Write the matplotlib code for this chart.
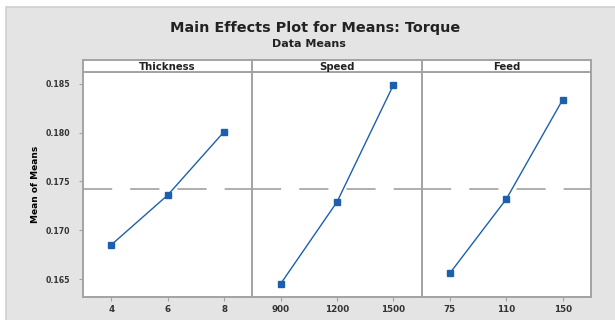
import matplotlib
matplotlib.use("Agg")
import matplotlib.pyplot as plt
from matplotlib.patches import Rectangle
from matplotlib.lines import Line2D

# Minitab main effects plot data
factors = ["Thickness", "Speed", "Feed"]
thickness_levels = ["4", "6", "8"]
speed_levels = ["900", "1200", "1500"]
feed_levels = ["75", "110", "150"]
thickness_means = [0.1685, 0.1736, 0.1801]
speed_means = [0.1645, 0.1729, 0.1849]
feed_means = [0.1656, 0.1732, 0.1834]
grand_mean = 0.1742
y_ticks = [0.165, 0.170, 0.175, 0.180, 0.185]

levels = [thickness_levels, speed_levels, feed_levels]
means = [thickness_means, speed_means, feed_means]

plt.rcParams["font.family"] = ["DejaVu Sans"]
plt.rcParams["lines.scale_dashes"] = False

W, H = 615, 320
fig = plt.figure(figsize=(W / 100, H / 100), dpi=100)
fig.patch.set_facecolor("white")

# grey background of the minitab graph window (border only on top/left)
x0, y1 = 6 / W, 1 - 7 / H
fig.add_artist(Rectangle((x0, 0), 1 - x0, y1, transform=fig.transFigure,
                         facecolor="#e4e4e4", edgecolor="none", zorder=0))
fig.add_artist(Line2D([x0, x0, 1], [0, y1, y1], transform=fig.transFigure,
                      color="#cfcfcf", linewidth=1.2, zorder=0))

left, right = 83 / W, 591 / W
bottom, top = 1 - 297 / H, 1 - 72 / H
strip_h = 12 / H
pw = (right - left) / 3
frame = "#a3a3a3"
blue = "#1d5fae"

for i in range(3):
    ax = fig.add_axes([left + i * pw, bottom, pw, top - bottom])
    x = range(len(levels[i]))
    ax.axhline(grand_mean, color="#a8a8a8", linewidth=1.3, dashes=(21, 13), zorder=1)
    ax.plot(x, means[i], color=blue, linewidth=1.0, marker="s", markersize=4.2, zorder=3)
    ax.set_xlim(-0.5, 2.5)
    ax.set_ylim(0.16316, 0.18622)
    ax.set_xticks(list(x))
    ax.set_xticklabels(levels[i], fontsize=6.3, fontweight="bold", color="#333333")
    ax.set_yticks(y_ticks)
    if i == 0:
        ax.set_yticklabels([f"{v:.3f}" for v in y_ticks], fontsize=5.6,
                           fontweight="bold", color="#333333")
        ax.set_ylabel("Mean of Means", fontsize=6.5, fontweight="bold", labelpad=4)
        ax.tick_params(axis="y", length=3, width=0.8, color=frame, pad=6)
    else:
        ax.tick_params(axis="y", left=False, labelleft=False)
    ax.tick_params(axis="x", length=3, width=0.8, color=frame, pad=2.5)
    for s in ax.spines.values():
        s.set_color(frame)
        s.set_linewidth(1.4)

    # strip with factor name
    sax = fig.add_axes([left + i * pw, top, pw, strip_h])
    sax.set_xticks([])
    sax.set_yticks([])
    for s in sax.spines.values():
        s.set_color(frame)
        s.set_linewidth(1.4)
    sax.text(0.5, 0.45, factors[i], transform=sax.transAxes, ha="center", va="center",
             fontsize=7.3, fontweight="bold", color="#222222")

fig.text(0.512, 1 - 28 / H, "Main Effects Plot for Means: Torque", ha="center", va="center",
         fontsize=10.4, fontweight="bold", color="#222222")
fig.text(0.503, 1 - 44 / H, "Data Means", ha="center", va="center",
         fontsize=8, fontweight="bold", color="#222222")

fig.savefig("out.png", dpi=100)
